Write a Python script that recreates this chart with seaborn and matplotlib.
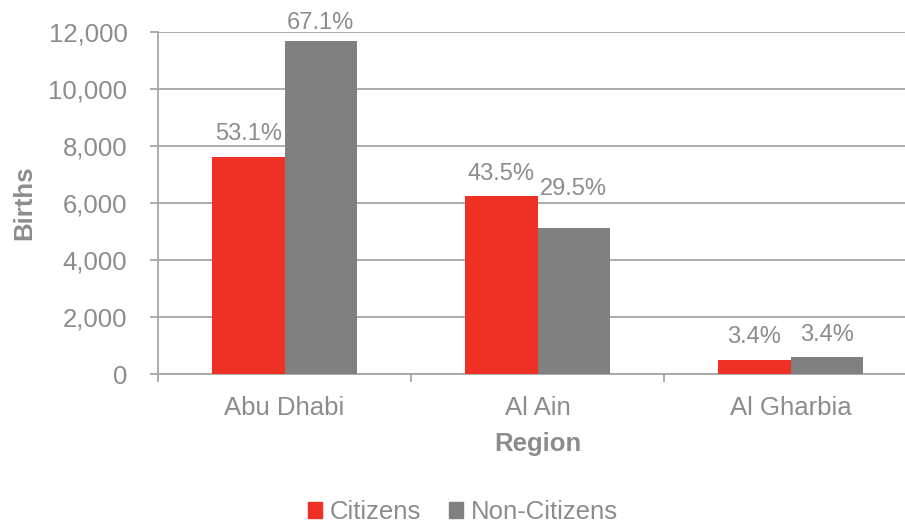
import matplotlib
matplotlib.use("Agg")
import matplotlib.pyplot as plt
import seaborn as sns
import pandas as pd
import numpy as np
from matplotlib.ticker import FuncFormatter, FixedLocator

regions = ["Abu Dhabi", "Al Ain", "Al Gharbia"]
groups = ["Citizens", "Non-Citizens"]
citizens = [7630, 6250, 480]
non_citizens = [11670, 5120, 580]
citizens_pct = ["53.1%", "43.5%", "3.4%"]
non_citizens_pct = ["67.1%", "29.5%", "3.4%"]
y_ticks = [0, 2000, 4000, 6000, 8000, 10000, 12000]

df = pd.DataFrame({
    "Region": regions * 2,
    "Group": [groups[0]] * 3 + [groups[1]] * 3,
    "Births": citizens + non_citizens,
})

sns.set_theme(style="white")
plt.rcParams["font.family"] = ["Liberation Sans", "DejaVu Sans"]

TXT = "#8c8c8c"
LINE = "#a6a6a6"
RED = "#ee3124"
GRAY = "#808080"

fig = plt.figure(figsize=(9.05, 5.24), dpi=100)
ax = fig.add_axes([158 / 905, 1 - 374 / 524, 759 / 905, 342 / 524])

sns.barplot(data=df, x="Region", y="Births", hue="Group", order=regions,
            hue_order=groups, palette=[RED, GRAY], width=0.57,
            saturation=1, ax=ax, legend=False, linewidth=0, zorder=3)

ax.set_ylim(0, 12000)
ax.set_xlim(-0.5, 2.5)
ax.yaxis.set_major_locator(FixedLocator(y_ticks))
ax.yaxis.set_major_formatter(FuncFormatter(lambda v, p: f"{int(v):,}"))
ax.grid(axis="y", color=LINE, linewidth=1.3, zorder=0)
ax.set_axisbelow(True)

for s in ["top", "right"]:
    ax.spines[s].set_visible(False)
for s in ["left", "bottom"]:
    ax.spines[s].set_color(LINE)
    ax.spines[s].set_linewidth(1.3)

ax.tick_params(axis="y", which="major", length=6, width=1.3, color=LINE,
               direction="out", labelsize=18.5, labelcolor=TXT, pad=16, left=True)
ax.tick_params(axis="x", which="major", length=0, labelsize=18.5,
               labelcolor=TXT, pad=15.5)
ax.set_xticks([-0.5, 0.5, 1.5, 2.5], minor=True)
ax.tick_params(axis="x", which="minor", length=6, width=1.3, color=LINE,
               direction="out", bottom=True)

ax.set_xlabel("Region", fontsize=18.5, fontweight="bold", color=TXT, labelpad=9)
ax.set_ylabel("Births", fontsize=18.5, fontweight="bold", color=TXT, labelpad=9)

offsets = [[8.5, 8, 9], [5.5, 20.5, 8.5]]
pct = [citizens_pct, non_citizens_pct]
for ci, cont in enumerate(ax.containers):
    for bi, bar in enumerate(cont):
        ax.annotate(pct[ci][bi], (bar.get_x() + bar.get_width() / 2, bar.get_height()),
                    xytext=(0, offsets[ci][bi]), textcoords="offset points",
                    ha="center", va="bottom", fontsize=17, color=TXT,
                    annotation_clip=False, zorder=5)

handles = [plt.Rectangle((0, 0), 1, 1, color=c) for c in [RED, GRAY]]
leg = fig.legend(handles, groups, loc="center", bbox_to_anchor=(463 / 905, 12 / 524),
                 ncol=2, frameon=False, fontsize=18.5, handlelength=0.55,
                 handleheight=0.55, handletextpad=0.3, columnspacing=1.1)
for t in leg.get_texts():
    t.set_color(TXT)

fig.savefig("out.png", dpi=100)
